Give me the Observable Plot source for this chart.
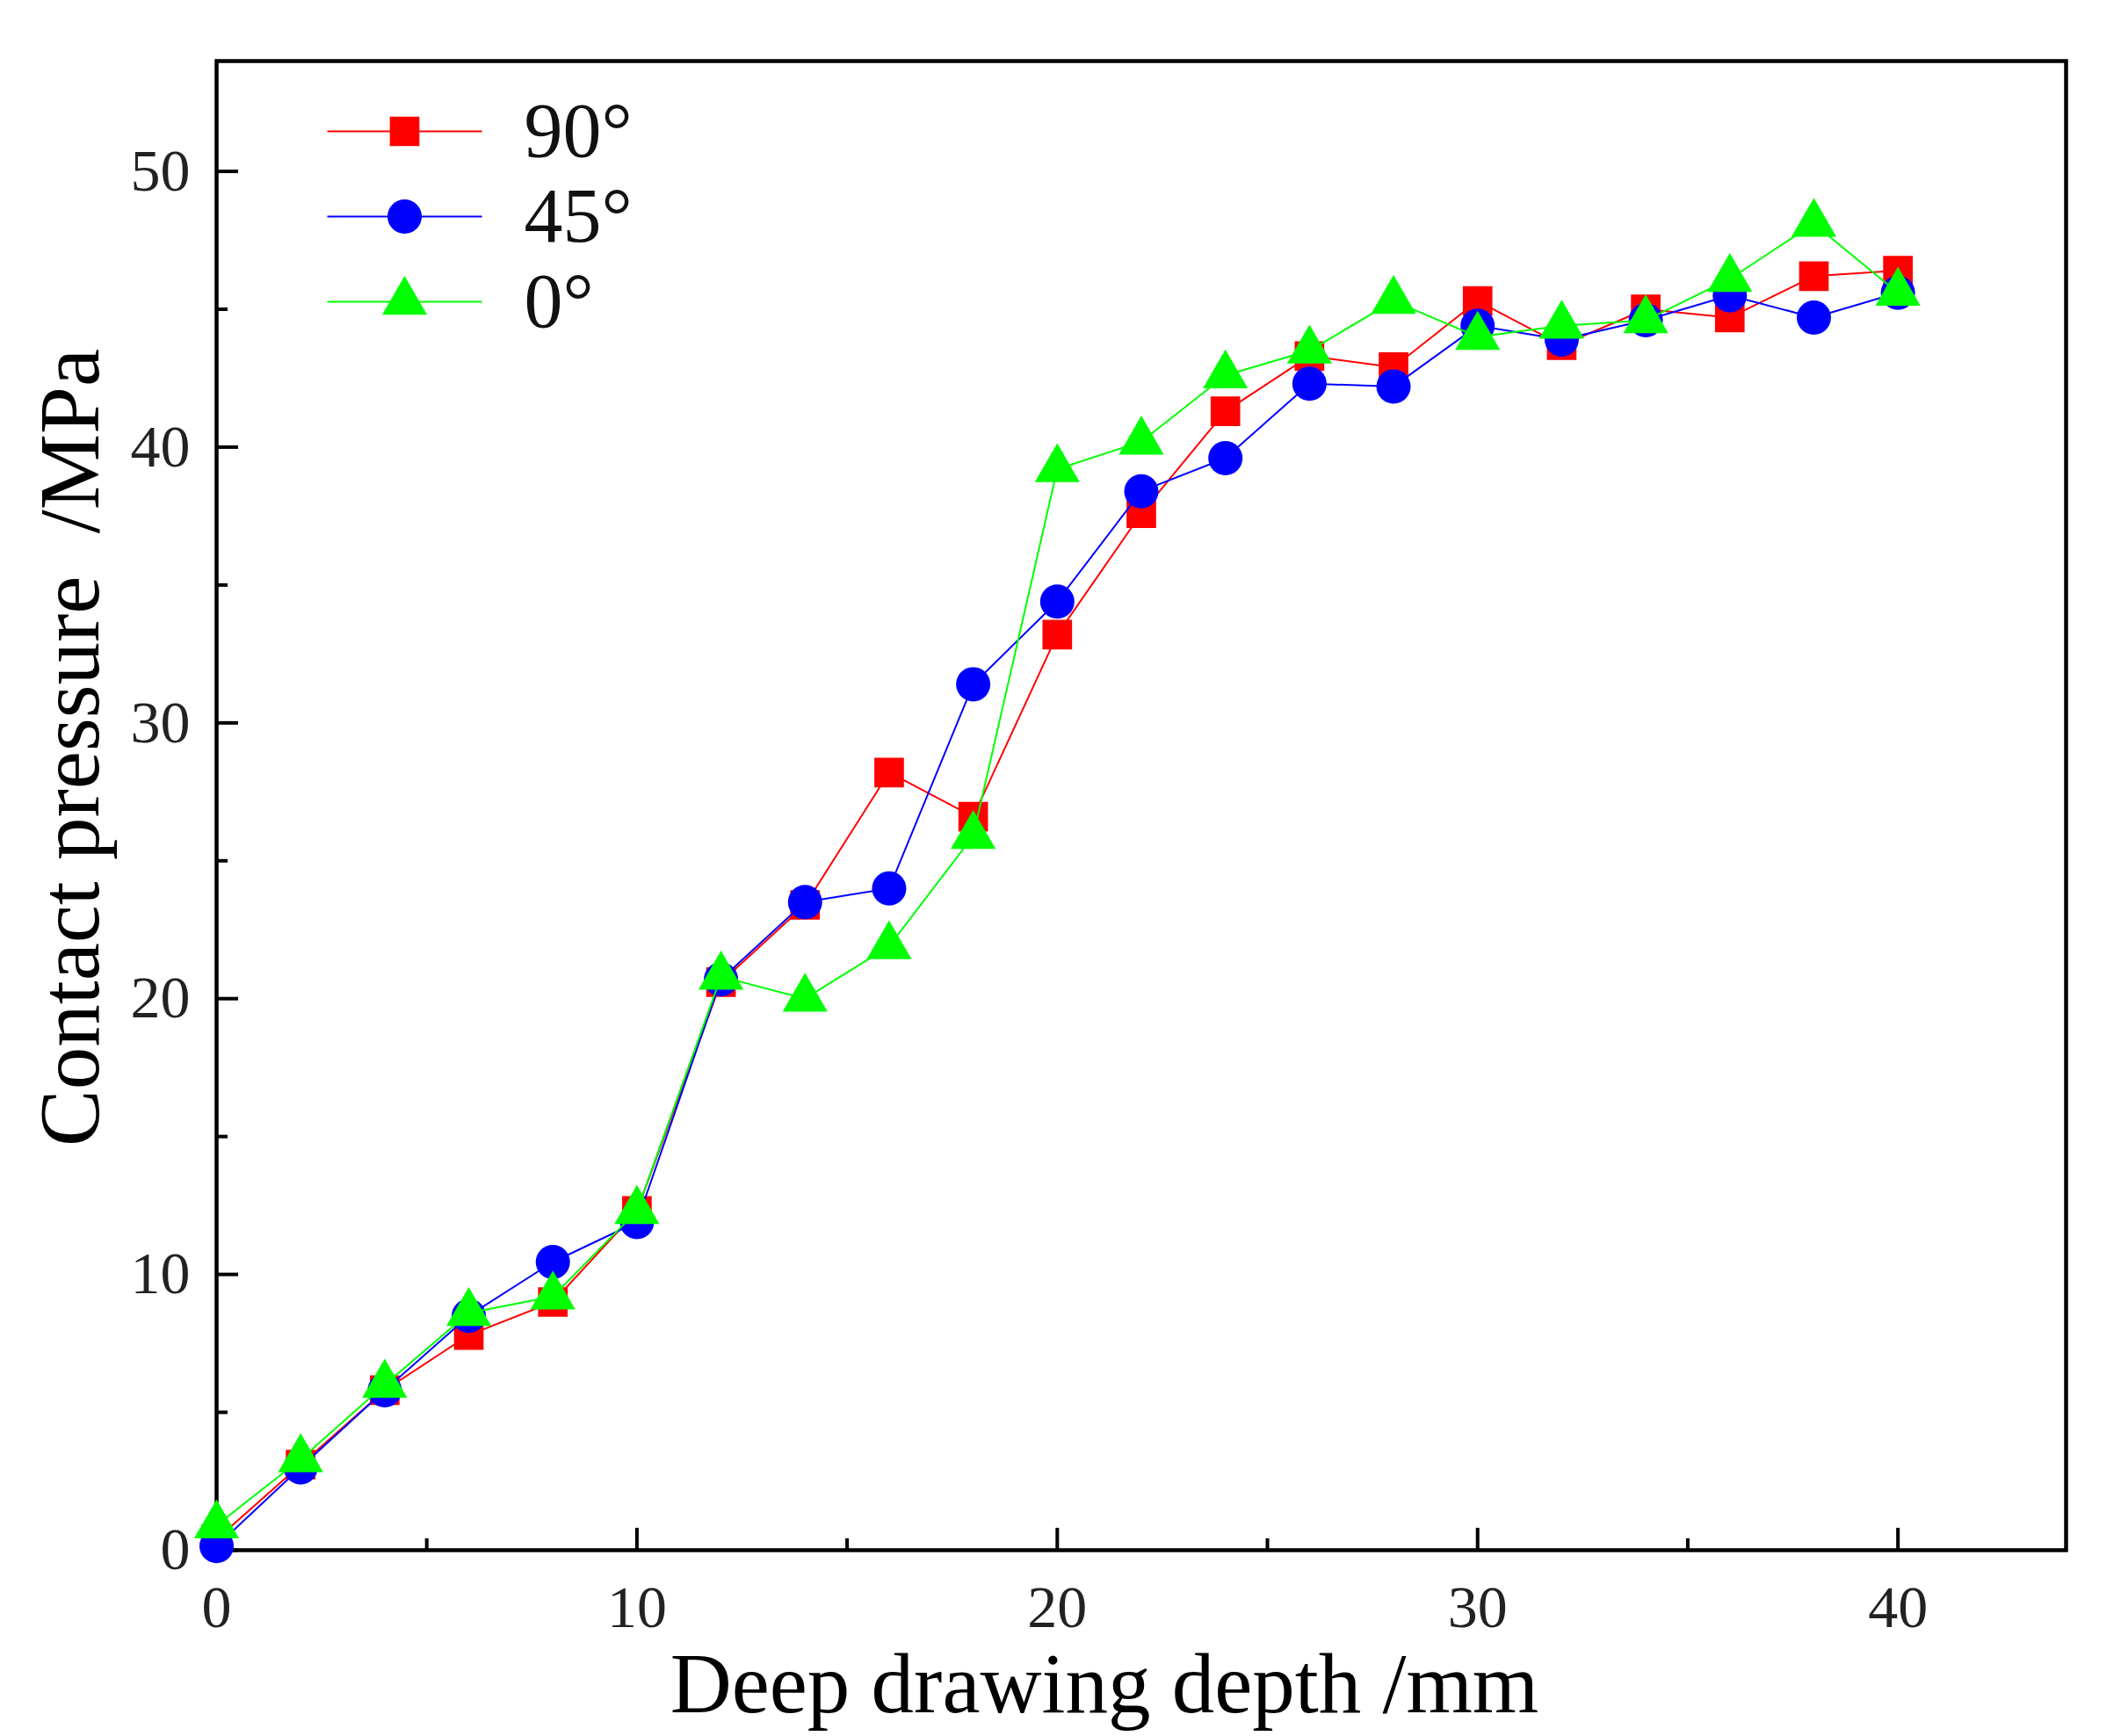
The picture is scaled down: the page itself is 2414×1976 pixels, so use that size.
<!DOCTYPE html>
<html>
<head>
<meta charset="utf-8">
<script src="https://cdn.jsdelivr.net/npm/d3@7"></script>
<script src="https://cdn.jsdelivr.net/npm/@observablehq/plot@0.6"></script>
<style>
  body { margin: 0; background: #fff; }
</style>
</head>
<body>
<div id="chart"></div>
<script>
// deep drawing depth (mm)
const depth = [0, 2, 4, 6, 8, 10, 12, 14, 16, 18, 20, 22, 24, 26, 28, 30, 32, 34, 36, 38, 40];

// contact pressure (MPa) per orientation
const p90 = [0.4, 3.1, 5.8, 7.8, 9.0, 12.3, 20.6, 23.4, 28.2, 26.6, 33.2, 37.6, 41.3, 43.3, 42.9, 45.3, 43.7, 45.0, 44.7, 46.2, 46.4];
const p45 = [0.15, 3.0, 5.8, 8.5, 10.45, 11.9, 20.7, 23.5, 24.0, 31.4, 34.4, 38.4, 39.6, 42.3, 42.2, 44.4, 43.9, 44.6, 45.5, 44.7, 45.6];
const p0 = [0.9, 3.3, 6.0, 8.6, 9.2, 12.3, 20.8, 20.0, 21.9, 25.9, 39.2, 40.2, 42.6, 43.5, 45.3, 44.0, 44.4, 44.6, 46.1, 48.1, 45.6];

const seriesNames = ["90°", "45°", "0°"];

const xMajor = [0, 10, 20, 30, 40];
const xMinor = [5, 15, 25, 35];
const yMajor = [0, 10, 20, 30, 40, 50];
const yMinor = [5, 15, 25, 35, 45];

// a flat line used as the legend "symbol"
const lineSymbol = {
  draw(context, size) {
    const l = Math.sqrt(size / Math.PI);
    context.moveTo(-l, 0);
    context.lineTo(l, 0);
  }
};

const series = [
  {name: seriesNames[0], values: p90, color: "#ff0000", symbol: "square", r: 19},
  {name: seriesNames[1], values: p45, color: "#0000ff", symbol: "circle", r: 19.5},
  {name: seriesNames[2], values: p0, color: "#00ff00", symbol: "triangle", r: 19}
];

const marks = [];

series.forEach((s, i) => {
  const rows = depth.map((d, j) => ({depth: d, pressure: s.values[j]}));
  marks.push(Plot.line(rows, {x: "depth", y: "pressure", stroke: s.color, strokeWidth: 2}));
  marks.push(Plot.dot(rows, {x: "depth", y: "pressure", fill: s.color, symbol: s.symbol, r: s.r}));

  // legend entry
  const dy = 80 + i * 97;
  marks.push(Plot.dot([s.name], {frameAnchor: "top-left", dx: 214, dy, symbol: lineSymbol, r: 88, stroke: s.color, strokeWidth: 2, fill: "none"}));
  marks.push(Plot.dot([s.name], {frameAnchor: "top-left", dx: 214, dy, symbol: s.symbol, r: s.r, fill: s.color}));
  marks.push(Plot.text([s.name], {frameAnchor: "top-left", dx: 350, dy, text: d => d, textAnchor: "start", lineAnchor: "middle", fontSize: 88, fill: "#111"}));
});

const chart = Plot.plot({
  width: 2414,
  height: 1976,
  marginLeft: 246,
  marginRight: 63,
  marginTop: 69,
  marginBottom: 212,
  x: {domain: [0, 44]},
  y: {domain: [0, 54]},
  style: {fontFamily: "'Liberation Serif', 'DejaVu Serif', serif", background: "#fff"},
  marks: [
    // inward major / minor ticks
    Plot.axisX(xMajor, {anchor: "bottom", tickSize: 25, dy: -25, strokeWidth: 4, text: null, label: null}),
    Plot.axisX(xMinor, {anchor: "bottom", tickSize: 13, dy: -13, strokeWidth: 4, text: null, label: null}),
    Plot.axisX(xMajor, {anchor: "bottom", tickSize: 0, tickPadding: 39, fontSize: 68, fill: "#222", label: null}),
    Plot.axisY(yMajor, {anchor: "left", tickSize: 25, dx: 25, strokeWidth: 4, text: null, label: null}),
    Plot.axisY(yMinor, {anchor: "left", tickSize: 13, dx: 13, strokeWidth: 4, text: null, label: null}),
    Plot.axisY(yMajor, {anchor: "left", tickSize: 0, tickPadding: 30, fontSize: 68, fill: "#222", label: null}),
    Plot.frame({stroke: "#000", strokeWidth: 4.5}),
    ...marks,
    Plot.text(["Deep drawing depth /mm"], {frameAnchor: "bottom", dx: -42, dy: 153, text: d => d, textAnchor: "middle", lineAnchor: "middle", fontSize: 97, fill: "#000"}),
    Plot.text(["Contact pressure  /MPa"], {frameAnchor: "left", dx: -166, dy: -66, rotate: -90, text: d => d, textAnchor: "middle", lineAnchor: "middle", fontSize: 97, fill: "#000"})
  ]
});

d3.select("#chart").append(() => chart);
</script>
</body>
</html>
